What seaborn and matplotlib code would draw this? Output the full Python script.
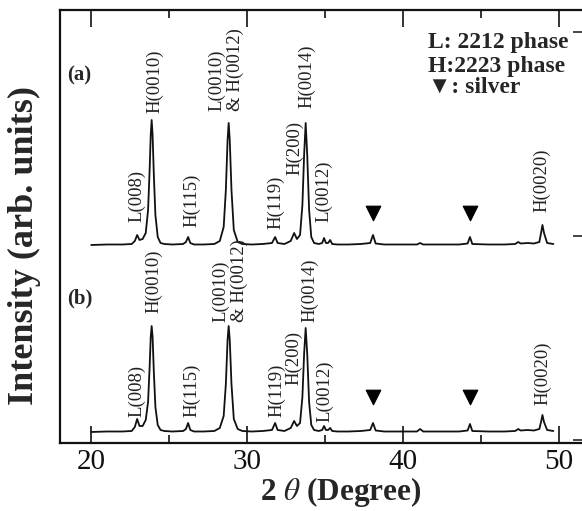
import numpy as np
import pandas as pd
import matplotlib
matplotlib.use("Agg")
import matplotlib.pyplot as plt
import seaborn as sns
from matplotlib.ticker import MultipleLocator, FixedLocator

# ---------------- data ----------------
# 2theta vertices of the traces (deg)
two_theta = [20.0, 21.0, 22.0, 22.6, 22.8, 22.95, 23.1, 23.3, 23.5, 23.65, 23.75,
             23.82, 23.88, 23.94, 24.02, 24.12, 24.27, 24.45, 24.7, 25.2, 25.9,
             26.08, 26.22, 26.36, 26.6, 27.2, 27.9, 28.25, 28.5, 28.64, 28.75,
             28.82, 28.89, 29.0, 29.15, 29.4, 29.7, 30.3, 31.0, 31.6, 31.8,
             31.96, 32.4, 32.8, 33.02, 33.2, 33.4, 33.55, 33.66, 33.76, 33.86,
             33.98, 34.12, 34.3, 34.6, 34.82, 34.94, 35.06, 35.2, 35.33, 35.46,
             35.8, 36.5, 37.3, 37.9, 38.08, 38.25, 38.8, 40.0, 40.9, 41.1, 41.3,
             42.5, 43.6, 44.15, 44.3, 44.45, 45.5, 46.5, 47.2, 47.4, 47.55, 48.0,
             48.4, 48.75, 48.86, 48.95, 49.05, 49.25, 49.65]
# intensity above each pattern's own baseline (arb. units)
intensity_a = [0, 0.5, 0.5, 1, 4, 10, 5, 6, 12, 35, 75,
               110, 125, 110, 70, 30, 8, 2, 1, 0.5, 1,
               3, 8, 2, 0.5, 0.5, 1, 4, 18, 55, 105,
               122, 105, 55, 15, 3, 1, 0.5, 1, 2, 8,
               2, 1, 4, 12, 6, 10, 40, 90, 122, 90,
               35, 8, 2, 1, 2, 7, 2, 2, 5, 1,
               0.5, 0.5, 1, 2, 10, 1.5, 0.5, 0.5, 0.5, 2, 0.5,
               0.5, 0.5, 1.5, 8, 1, 0.5, 0.5, 1, 3, 1.5, 2,
               1.5, 3, 12, 20, 12, 2, 1]
intensity_b = [0, 0.5, 0.5, 1, 5, 13, 6, 6, 12, 30, 65,
               95, 106, 95, 60, 25, 7, 2, 1, 0.5, 1,
               3, 9, 2, 0.5, 0.5, 1, 4, 16, 48, 92,
               106, 92, 48, 13, 3, 1, 0.5, 1, 2, 9,
               2, 1, 4, 11, 6, 9, 35, 78, 104, 78,
               30, 7, 2, 1, 2, 6, 2, 2, 4, 1,
               0.5, 0.5, 1, 2, 9, 1.5, 0.5, 0.5, 0.5, 3, 0.5,
               0.5, 0.5, 1.5, 8, 1, 0.5, 0.5, 1, 3, 1.5, 2,
               1.5, 3, 10, 17, 10, 2, 1]

peak_names = ["L(008)", "H(0010)", "H(115)", "L(0010)\n& H(0012)", "H(119)",
              "H(200)", "H(0014)", "L(0012)", "H(0020)"]
silver_theta = [38.1, 44.3]
legend_lines = ["L: 2212 phase", "H:2223 phase", "\u25BC: silver"]
panel_names = ["(a)", "(b)"]

# ---------------- layout ----------------
offset_a, offset_b = 198, 11
label_pos_a = [(22.92, 23), (24.07, 132), (26.45, 18), (28.65, 134), (31.85, 16),
               (33.07, 70), (33.84, 137), (34.93, 23), (48.9, 33)]
label_pos_b = [(22.92, 15), (24.0, 119), (26.45, 15), (28.9, 110), (31.9, 15),
               (33.0, 47), (34.03, 110), (35.0, 10), (48.98, 27)]
marker_rel_a, marker_rel_b = 32, 35

sns.set_style("white")
plt.rcParams["font.family"] = ["Liberation Serif", "DejaVu Sans"]
plt.rcParams["mathtext.fontset"] = "stix"

fig = plt.figure(figsize=(5.82, 5.11), dpi=100)
W, H = 582, 511
ax = fig.add_axes([60 / W, 68 / H, 530 / W, 433 / H])

df = pd.DataFrame({
    "two_theta": two_theta * 2,
    "intensity": [v + offset_a for v in intensity_a] + [v + offset_b for v in intensity_b],
    "pattern": ["a"] * len(two_theta) + ["b"] * len(two_theta),
})
sns.lineplot(data=df, x="two_theta", y="intensity", units="pattern", estimator=None,
             sort=False, color="#111111", lw=1.3, ax=ax, legend=False)

mk = pd.DataFrame({
    "x": silver_theta * 2,
    "y": [offset_a + marker_rel_a] * 2 + [offset_b + marker_rel_b] * 2,
})
sns.scatterplot(data=mk, x="x", y="y", marker="v", s=110, color="black",
                edgecolor="black", ax=ax, legend=False, zorder=5)

for names, pos, off in [(peak_names, label_pos_a, offset_a), (peak_names, label_pos_b, offset_b)]:
    for name, (px, py) in zip(names, pos):
        ax.text(px, off + py, name, rotation=90, ha="center", va="bottom",
                multialignment="left", fontsize=13.5, color="#222222",
                linespacing=1.05)

ax.set_xlim(18, 52)
ax.set_ylim(0, 433)
ax.xaxis.set_major_locator(MultipleLocator(10))
ax.xaxis.set_minor_locator(MultipleLocator(5))
ax.yaxis.set_major_locator(FixedLocator([3, 207, 411]))
ax.yaxis.set_minor_locator(FixedLocator([105, 309]))
ax.tick_params(axis="x", which="both", direction="in", top=True, bottom=True,
               labelsize=21, pad=4, colors="#111111", width=1.2)
ax.tick_params(axis="x", which="major", length=12)
ax.tick_params(axis="x", which="minor", length=6)
ax.tick_params(axis="y", which="both", direction="in", left=False, right=True,
               labelleft=False, labelright=False, width=1.2)
ax.tick_params(axis="y", which="major", length=12)
ax.tick_params(axis="y", which="minor", length=6)
for s in ax.spines.values():
    s.set_linewidth(1.6)
    s.set_color("#111111")

ax.set_xlabel(r"2 $\theta$ (Degree)", fontsize=22.5, fontweight="bold")
ax.set_ylabel("Intensity (arb. units)", fontsize=26, fontweight="bold")
ax.xaxis.set_label_coords((341 - 60) / 530, -0.075)
ax.yaxis.set_label_coords(-0.036, 0.455)

ys = [(443 - 48) / 433, (443 - 72) / 433, (443 - 93) / 433]
for t, yy in zip(legend_lines, ys):
    ax.text(0.694, yy, t, transform=ax.transAxes, fontsize=17, fontweight="bold",
            va="baseline", ha="left")

ax.text(0.013, (443 - 75) / 433, panel_names[0], transform=ax.transAxes, fontsize=15,
        fontweight="bold", va="center", ha="left")
ax.text(0.013, (443 - 298) / 433, panel_names[1], transform=ax.transAxes, fontsize=15,
        fontweight="bold", va="center", ha="left")

fig.savefig("out.png", dpi=100)
